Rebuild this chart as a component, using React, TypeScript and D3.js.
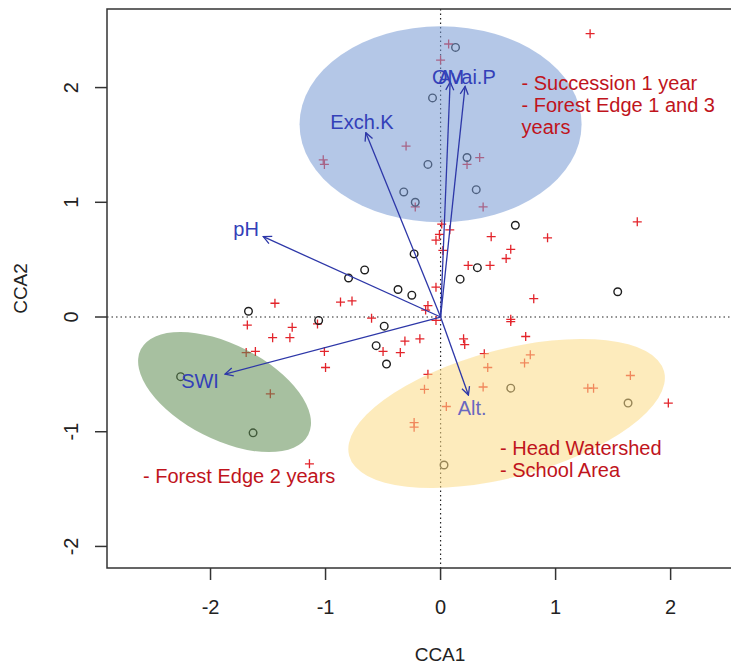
import React from "react";
import { scaleLinear } from "d3";

const W = 731;
const H = 666;

// site scores (open circles)
const siteX = [0.13, -0.07, -0.11, 0.23, 0.31, -0.32, -0.22, 0.65, -0.23, -0.66, -0.8, 0.32, 0.17, 1.54, -0.37, -0.25, -1.67, -1.06, -0.49, -0.56, -0.47, -2.26, -1.63, 0.61, 1.63, 0.03];
const siteY = [2.35, 1.91, 1.33, 1.39, 1.11, 1.09, 1.0, 0.8, 0.55, 0.41, 0.34, 0.43, 0.33, 0.22, 0.24, 0.19, 0.05, -0.03, -0.08, -0.25, -0.41, -0.52, -1.01, -0.62, -0.75, -1.29];

// species scores (red +)
const speciesX = [0.07, 0.0, 1.3, -0.3, -1.02, -1.01, 0.34, 0.23, -0.22, 0.37, 1.71, 0.01, 0.08, -0.01, -0.04, 0.44, 0.93, 0.02, 0.61, 0.57, 0.24, 0.43, -0.04, 0.81, -0.87, -0.77, -1.44, -0.11, -0.13, -0.6, -1.07, -0.04, 0.61, 0.61, -1.68, -1.29, -1.46, -1.31, -0.31, -0.18, 0.2, 0.21, 0.74, -1.01, -0.5, -0.35, 0.38, 0.78, -1.69, -1.61, 0.73, 0.41, -1.0, -0.11, -0.14, 0.37, 1.28, 1.33, 1.65, 1.98, 0.05, -0.23, -0.23, -1.48, -1.14];
const speciesY = [2.38, 2.24, 2.47, 1.49, 1.37, 1.33, 1.39, 1.33, 0.96, 0.96, 0.83, 0.81, 0.76, 0.72, 0.67, 0.7, 0.69, 0.58, 0.59, 0.51, 0.45, 0.45, 0.26, 0.16, 0.13, 0.14, 0.12, 0.1, 0.06, -0.01, -0.06, -0.03, -0.02, -0.04, -0.07, -0.09, -0.18, -0.18, -0.21, -0.19, -0.19, -0.24, -0.17, -0.3, -0.3, -0.31, -0.32, -0.33, -0.31, -0.3, -0.4, -0.44, -0.44, -0.5, -0.63, -0.61, -0.62, -0.62, -0.51, -0.75, -0.78, -0.92, -0.96, -0.67, -1.28];

// environmental variables (biplot arrows)
const envNames = ["OM", "Avai.P", "Exch.K", "pH", "Alt.", "SWI"];
const envX = [0.083, 0.213, -0.65, -1.541, 0.242, -1.874];
const envY = [2.048, 2.01, 1.607, 0.7, -0.68, -0.497];
const envLabelX = [0.065, 0.23, -0.683, -1.691, 0.274, -2.091];
const envLabelY = [2.092, 2.092, 1.7, 0.767, -0.793, -0.558];

const xTicks = [-2, -1, 0, 1, 2];
const yTicks = [-2, -1, 0, 1, 2];

// group ellipses and their notes
const ellCx = [0.0, -1.878, 0.574];
const ellCy = [1.68, -0.654, -0.841];
const ellRx = [1.226, 0.817, 1.417];
const ellRy = [0.854, 0.414, 0.554];
const ellAngle = [0, 27, -15];
const ellColor = ["#7799d3", "#5f8c52", "#fbdb85"];
const groupNotes = [
  ["- Succession 1 year", "- Forest Edge 1 and 3", "years"],
  ["- Forest Edge 2 years"],
  ["- Head Watershed", "- School Area"]
];
const noteX = [0.704, -2.587, 0.517];
const noteY = [2.04, -1.386, -1.145];

const FONT = "'Liberation Sans', Arial, Helvetica, sans-serif";

export default function App() {
  const box = { left: 107, right: 773, top: 9, bottom: 568 };

  const xScale = scaleLinear().domain([-2.9, 2.89]).range([box.left, box.right]);
  const yScale = scaleLinear().domain([-2.188, 2.685]).range([box.bottom, box.top]);

  const arrowColor = "#2d37a8";
  const x0 = xScale(0);
  const y0 = yScale(0);

  return (
    <svg
      width={W}
      height={H}
      style={{ position: "absolute", left: 0, top: 0, background: "#fff" }}
      fontFamily={FONT}
    >
      <defs>
        <marker
          id="head"
          viewBox="0 0 10 10"
          refX="9"
          refY="5"
          markerWidth="10"
          markerHeight="10"
          markerUnits="userSpaceOnUse"
          orient="auto"
        >
          <path d="M1,1 L9,5 L1,9" fill="none" stroke={arrowColor} strokeWidth="1.3" />
        </marker>
        <clipPath id="plot">
          <rect x={box.left} y={box.top} width={box.right - box.left} height={box.bottom - box.top} />
        </clipPath>
      </defs>

      <g clipPath="url(#plot)">
        {/* origin lines */}
        <line x1={box.left} x2={box.right} y1={y0} y2={y0} stroke="#222" strokeWidth={1.2} strokeDasharray="1.5,3" />
        <line x1={x0} x2={x0} y1={box.top} y2={box.bottom} stroke="#222" strokeWidth={1.2} strokeDasharray="1.5,3" />

        {speciesX.map((d, i) => {
          const px = xScale(d);
          const py = yScale(speciesY[i]);
          return (
            <path
              key={"s" + i}
              d={`M${px - 4.5},${py}H${px + 4.5}M${px},${py - 4.5}V${py + 4.5}`}
              stroke="#e3242b"
              strokeWidth={1.3}
            />
          );
        })}

        {siteX.map((d, i) => (
          <circle
            key={"c" + i}
            cx={xScale(d)}
            cy={yScale(siteY[i])}
            r={3.8}
            fill="none"
            stroke="#1e1e1e"
            strokeWidth={1.4}
          />
        ))}

        {ellCx.map((d, i) => {
          const cx = xScale(d);
          const cy = yScale(ellCy[i]);
          const rx = xScale(d + ellRx[i]) - cx;
          const ry = cy - yScale(ellCy[i] + ellRy[i]);
          return (
            <ellipse
              key={"e" + i}
              transform={`translate(${cx},${cy}) rotate(${ellAngle[i]})`}
              rx={rx}
              ry={ry}
              fill={ellColor[i]}
              fillOpacity={0.55}
            />
          );
        })}

        {envX.map((d, i) => (
          <line
            key={"a" + i}
            x1={x0}
            y1={y0}
            x2={xScale(d)}
            y2={yScale(envY[i])}
            stroke={arrowColor}
            strokeWidth={1.3}
            markerEnd="url(#head)"
          />
        ))}

        {envNames.map((name, i) => (
          <text
            key={"l" + i}
            x={xScale(envLabelX[i])}
            y={yScale(envLabelY[i])}
            textAnchor="middle"
            dominantBaseline="central"
            fontSize={20}
            fill={name === "Alt." ? "#6a68c0" : "#3340b8"}
          >
            {name}
          </text>
        ))}

        {groupNotes.map((lines, g) =>
          lines.map((t, j) => (
            <text
              key={"n" + g + j}
              x={xScale(noteX[g])}
              y={yScale(noteY[g]) + j * 22}
              dominantBaseline="central"
              fontSize={20}
              fill="#c0141c"
            >
              {t}
            </text>
          ))
        )}
      </g>

      {/* frame */}
      <rect
        x={box.left}
        y={box.top}
        width={box.right - box.left}
        height={box.bottom - box.top}
        fill="none"
        stroke="#333"
        strokeWidth={1.5}
      />

      {/* x axis */}
      {xTicks.map(t => (
        <g key={"xt" + t} transform={`translate(${xScale(t)},${box.bottom})`}>
          <line y1={0} y2={12} stroke="#333" strokeWidth={1.5} />
          <text y={39} textAnchor="middle" dominantBaseline="central" fontSize={20} fill="#222">
            {t}
          </text>
        </g>
      ))}
      <text x={(box.left + box.right) / 2} y={654} textAnchor="middle" dominantBaseline="central" fontSize={19} fill="#222">
        CCA1
      </text>

      {/* y axis */}
      {yTicks.map(t => (
        <g key={"yt" + t} transform={`translate(${box.left},${yScale(t)})`}>
          <line x1={0} x2={-12} stroke="#333" strokeWidth={1.5} />
          <text
            transform="translate(-36,0) rotate(-90)"
            textAnchor="middle"
            dominantBaseline="central"
            fontSize={20}
            fill="#222"
          >
            {t}
          </text>
        </g>
      ))}
      <text
        transform={`translate(20,${(box.top + box.bottom) / 2}) rotate(-90)`}
        textAnchor="middle"
        dominantBaseline="central"
        fontSize={19}
        fill="#222"
      >
        CCA2
      </text>
    </svg>
  );
}
